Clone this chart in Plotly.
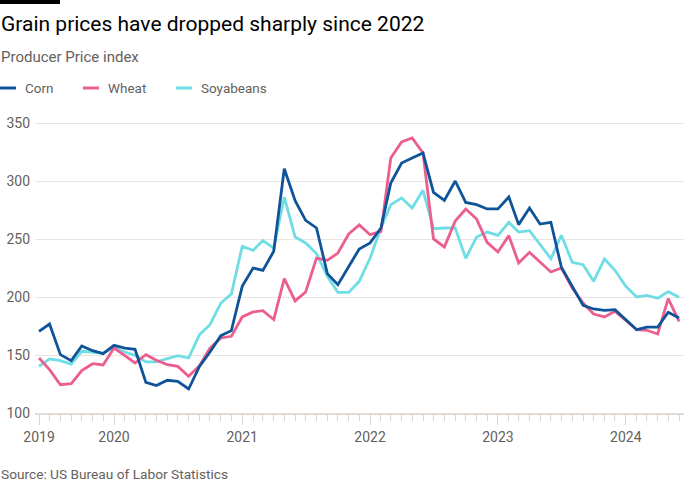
import pandas as pd
import plotly.graph_objects as go

# ---------------- data ----------------
months = pd.date_range("2019-06-01", periods=61, freq="MS")

corn = [170.4, 176.7, 150.3, 145.1, 157.8, 153.7, 151.1, 158.3, 156.0, 154.9,
        126.4, 123.6, 128.2, 127.3, 120.7, 140.2, 152.6, 166.7, 171.0, 209.2,
        225.0, 223.0, 239.4, 310.6, 283.0, 266.1, 259.5, 220.1, 210.6, 225.9,
        241.4, 246.6, 259.5, 298.3, 315.5, 319.8, 324.1, 290.2, 283.3, 300.0,
        281.5, 279.6, 275.9, 275.9, 286.2, 262.4, 276.7, 262.9, 264.4, 225.6,
        209.2, 192.8, 189.7, 188.5, 189.1, 180.5, 171.8, 174.1, 174.1, 186.8,
        181.9]

wheat = [147.4, 137.4, 124.4, 125.3, 136.5, 142.5, 141.4, 156.0, 149.4, 143.1,
         150.3, 145.4, 141.7, 140.2, 131.6, 140.8, 156.0, 164.7, 166.1, 182.8,
         187.1, 188.2, 180.5, 215.8, 196.6, 204.3, 233.6, 231.6, 237.9, 254.3,
         262.1, 253.7, 256.6, 319.8, 333.6, 337.1, 324.1, 250.0, 243.1, 265.5,
         275.9, 267.2, 247.1, 238.8, 252.9, 229.3, 238.5, 230.2, 221.6, 225.0,
         207.8, 194.8, 185.3, 182.8, 187.6, 179.9, 171.8, 171.3, 168.1, 198.6,
         179.0]

soyabeans = [140.2, 146.6, 145.1, 142.2, 153.2, 152.6, 151.7, 156.6, 152.6, 149.7,
             144.0, 144.0, 146.8, 149.4, 147.4, 167.5, 176.1, 194.8, 202.6, 243.7,
             240.2, 248.6, 242.2, 286.2, 251.7, 246.6, 237.4, 217.8, 204.0, 204.0,
             213.5, 233.6, 259.5, 279.6, 285.3, 276.7, 292.0, 258.9, 259.5, 259.5,
             233.3, 251.7, 256.0, 253.2, 264.4, 256.0, 257.2, 245.1, 233.0, 253.2,
             229.9, 227.9, 213.5, 232.8, 223.0, 209.2, 200.0, 201.4, 198.9, 204.6,
             199.7]

series_names = ["Corn", "Wheat", "Soyabeans"]
series_values = [corn, wheat, soyabeans]
series_colors = ["#0F5499", "#EB5E8D", "#6FDDE4"]

y_ticks = [100, 150, 200, 250, 300, 350]
x_tick_dates = ["2019-06-01", "2020-01-01", "2021-01-01", "2022-01-01", "2023-01-01", "2024-01-01"]
x_tick_labels = ["2019", "2020", "2021", "2022", "2023", "2024"]

# ---------------- layout geometry ----------------
W, H = 700, 500
L, R, T, B = 35, 16, 112, 87
PW, PH = W - L - R, H - T - B


def px(x):
    return (x - L) / PW


def py(y):
    return (H - B - y) / PH


TEXT = "#66605C"
FONT = "Roboto"

fig = go.Figure()

# draw order: soyabeans, wheat, corn (corn on top)
for name, vals, col in reversed(list(zip(series_names, series_values, series_colors))):
    fig.add_trace(go.Scatter(x=months, y=vals, mode="lines", name=name,
                             line=dict(color=col, width=2.8), showlegend=False,
                             hoverinfo="x+y+name"))

shapes = [
    # FT top bar
    dict(type="rect", xref="paper", yref="paper", x0=px(0), x1=px(60), y0=py(0), y1=py(4),
         fillcolor="#000000", line=dict(width=0)),
]
annotations = [
    dict(text="Grain prices have dropped sharply since 2022", xref="paper", yref="paper",
         x=px(-1), y=py(24), xanchor="left", yanchor="middle", showarrow=False,
         font=dict(family=FONT, size=21, color="#000000")),
    dict(text="Producer Price index", xref="paper", yref="paper",
         x=px(-1), y=py(57), xanchor="left", yanchor="middle", showarrow=False,
         font=dict(family=FONT, size=15, color=TEXT)),
    dict(text="Source: US Bureau of Labor Statistics", xref="paper", yref="paper",
         x=px(-1), y=py(474), xanchor="left", yanchor="middle", showarrow=False,
         font=dict(family=FONT, size=13.7, color=TEXT)),
]

# manual legend
legend_x = [0, 83, 176]
for lx, name, col in zip(legend_x, series_names, series_colors):
    shapes.append(dict(type="line", xref="paper", yref="paper", x0=px(lx), x1=px(lx + 16),
                       y0=py(88), y1=py(88), line=dict(color=col, width=3)))
    annotations.append(dict(text=name, xref="paper", yref="paper", x=px(lx + 23), y=py(88),
                            xanchor="left", yanchor="middle", showarrow=False,
                            font=dict(family=FONT, size=13.5, color=TEXT)))

fig.update_layout(
    width=W, height=H,
    margin=dict(l=L, r=R, t=T, b=B, pad=0),
    paper_bgcolor="#FFFFFF", plot_bgcolor="#FFFFFF",
    font=dict(family=FONT, color=TEXT),
    shapes=shapes, annotations=annotations,
    showlegend=False,
    xaxis=dict(
        type="date", automargin=False,
        range=["2019-05-20 12:00", "2024-06-15"],
        tickmode="array", tickvals=x_tick_dates, ticktext=x_tick_labels,
        ticks="outside", ticklen=10, tickwidth=1, tickcolor="#DDD5CF",
        showline=True, linecolor="#E3DCD6", linewidth=2,
        showgrid=False, zeroline=False,
        tickfont=dict(family=FONT, size=14, color=TEXT),
        minor=dict(tickmode="array", tickvals=list(months), ticks="outside",
                   ticklen=6, tickwidth=1, tickcolor="#DDD5CF", showgrid=False),
    ),
    yaxis=dict(
        automargin=False,
        range=[100, 100 + PH / 1.16],
        tickmode="array", tickvals=y_ticks,
        showgrid=True, gridcolor="#EAE5E1", gridwidth=1,
        zeroline=False, showline=False, ticks="",
        ticklabelstandoff=4,
        tickfont=dict(family=FONT, size=14, color=TEXT),
    ),
)

fig.write_html("out.html", config={"displayModeBar": False},
               post_script="document.body.style.margin='0';document.body.style.padding='0';")
